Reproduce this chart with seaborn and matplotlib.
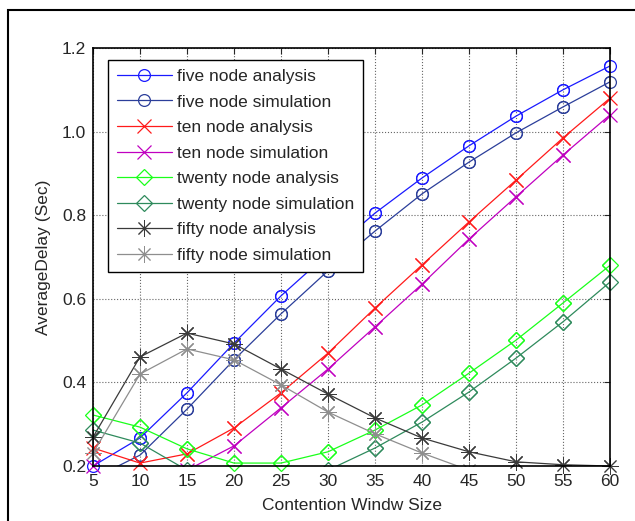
import matplotlib
matplotlib.use("Agg")
import matplotlib.pyplot as plt
from matplotlib.patches import Rectangle
import seaborn as sns
import numpy as np
import pandas as pd

# Data
window = [5, 10, 15, 20, 25, 30, 35, 40, 45, 50, 55, 60]

five_analysis = [0.200, 0.267, 0.375, 0.494, 0.607, 0.708, 0.805, 0.889, 0.966, 1.037, 1.100, 1.157]
five_sim = [0.170, 0.226, 0.336, 0.454, 0.564, 0.667, 0.762, 0.851, 0.927, 0.997, 1.059, 1.119]
ten_analysis = [0.243, 0.207, 0.229, 0.291, 0.375, 0.470, 0.578, 0.681, 0.784, 0.884, 0.985, 1.080]
ten_sim = [0.200, 0.170, 0.190, 0.248, 0.339, 0.432, 0.533, 0.635, 0.743, 0.844, 0.944, 1.040]
twenty_analysis = [0.322, 0.293, 0.241, 0.207, 0.207, 0.234, 0.286, 0.346, 0.422, 0.501, 0.590, 0.680]
twenty_sim = [0.286, 0.255, 0.190, 0.175, 0.172, 0.190, 0.243, 0.305, 0.377, 0.458, 0.545, 0.640]
fifty_analysis = [0.269, 0.461, 0.518, 0.492, 0.432, 0.372, 0.315, 0.267, 0.234, 0.210, 0.203, 0.200]
fifty_sim = [0.231, 0.420, 0.480, 0.454, 0.394, 0.329, 0.277, 0.231, 0.190, 0.180, 0.178, 0.178]

series = [
    ("five node analysis", five_analysis, "#1a1aff", "o"),
    ("five node simulation", five_sim, "#2b3e9a", "o"),
    ("ten node analysis", ten_analysis, "#ff1a1a", "x"),
    ("ten node simulation", ten_sim, "#c000c0", "x"),
    ("twenty node analysis", twenty_analysis, "#1aff1a", "D"),
    ("twenty node simulation", twenty_sim, "#2e8a5c", "D"),
    ("fifty node analysis", fifty_analysis, "#3a3a3a", (8, 2, 0)),
    ("fifty node simulation", fifty_sim, "#8e8e8e", (8, 2, 0)),
]

# marker size per marker kind
msizes = {"o": 8.5, "x": 9.5, "D": 8}

YMIN, YMAX = 0.2, 1.2

sns.set_style("white")
plt.rcParams['font.family'] = ['Liberation Sans', 'DejaVu Sans']
plt.rcParams['font.size'] = 12

fig = plt.figure(figsize=(6.35, 5.21), dpi=100)
ax = fig.add_axes([93 / 635, 1 - 466 / 521, 517 / 635, 418 / 521])

for label, vals, color, marker in series:
    df = pd.DataFrame({"x": window, "y": vals})
    msize = msizes.get(marker, 12)
    mew = 0.9 if isinstance(marker, str) else 0.7
    # full line, clipped to the axes
    sns.lineplot(data=df, x="x", y="y", ax=ax, color=color, linewidth=0.9,
                 marker=marker, markersize=msize, markerfacecolor="none",
                 markeredgecolor=color, markeredgewidth=mew, label=label)
    # markers inside the data range are drawn whole, like MATLAB does
    inside = df[(df["y"] >= YMIN - 1e-9) & (df["y"] <= YMAX)]
    sns.lineplot(data=inside, x="x", y="y", ax=ax, color=color, linestyle="",
                 marker=marker, markersize=msize, markerfacecolor="none",
                 markeredgecolor=color, markeredgewidth=mew)
    ax.lines[-1].set_clip_on(False)

ax.set_xlim(5, 60)
ax.set_ylim(YMIN, YMAX)
ax.set_xticks(window)
ax.set_yticks([0.2, 0.4, 0.6, 0.8, 1.0, 1.2])
ax.set_yticklabels(["0.2", "0.4", "0.6", "0.8", "1.0", "1.2"])
ax.tick_params(direction="in", top=True, right=True, length=4, width=0.8,
               labelsize=12.5)
ax.tick_params(axis="x", pad=6)
ax.tick_params(axis="y", pad=5)
ax.grid(True, color="#666666", linestyle=":", linewidth=0.8)
for sp in ax.spines.values():
    sp.set_color("black")
    sp.set_linewidth(1.2)

ax.set_xlabel("Contention Windw Size", fontsize=12.5, labelpad=6)
ax.set_ylabel("AverageDelay (Sec)", fontsize=12.5, labelpad=8)

leg = ax.legend(loc="upper left", bbox_to_anchor=(0.029, 0.971), fontsize=12.5,
                handlelength=3.2, handletextpad=0.3, labelspacing=0.6,
                borderpad=0.5, borderaxespad=0, fancybox=False, framealpha=1)
leg.get_frame().set_edgecolor("black")
leg.get_frame().set_linewidth(1.0)

# outer figure frame (left and top edges visible)
fig.add_artist(Rectangle((8 / 635, -0.5), 2.0, 1.5 - 10 / 521,
                         transform=fig.transFigure, fill=False,
                         edgecolor="black", linewidth=1.5))

fig.savefig("out.png", dpi=100)
